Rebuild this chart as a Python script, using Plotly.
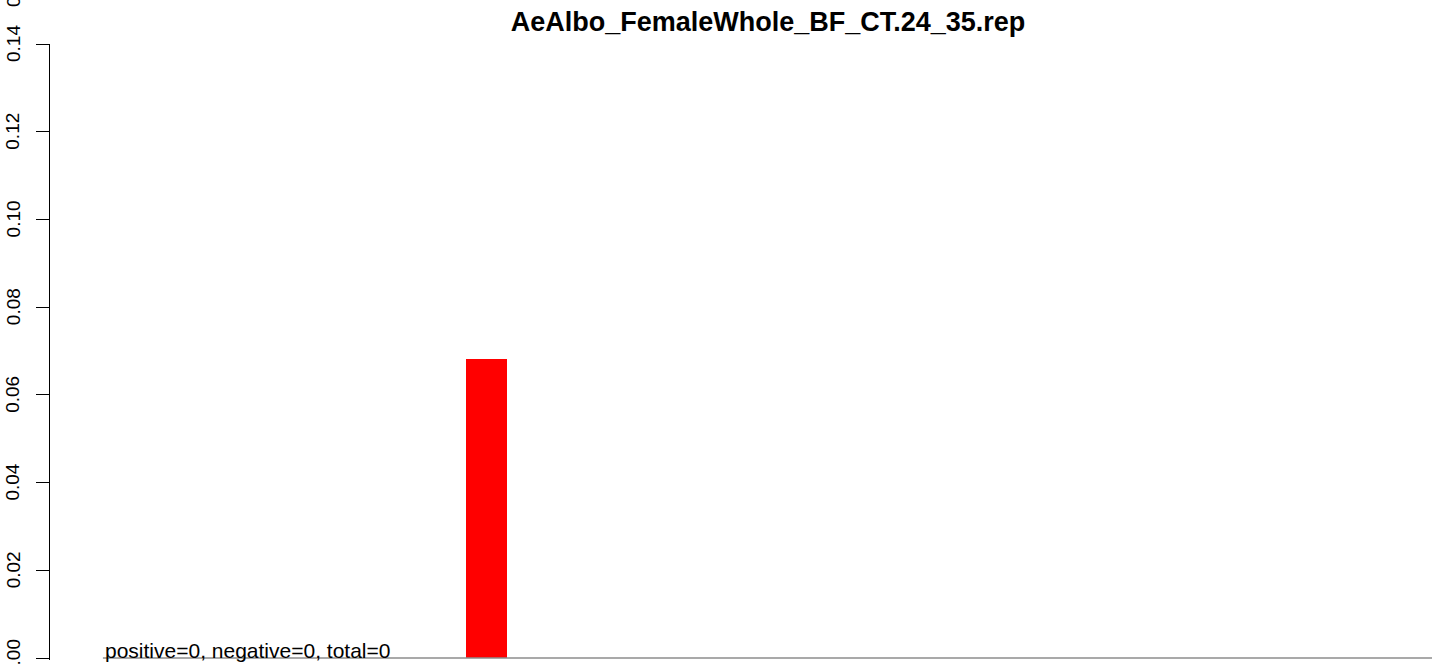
import plotly.graph_objects as go

# ---- data ----
title_text = "AeAlbo_FemaleWhole_BF_CT.24_35.rep"
bar_positions = [10.65]
bar_values = [0.0682]
y_tick_values = [0.00, 0.02, 0.04, 0.06, 0.08, 0.10, 0.12, 0.14]
y_tick_labels = ["0.00", "0.02", "0.04", "0.06", "0.08", "0.10", "0.12", "0.14"]
baseline_start = 1.29
baseline_end = 33.7
summary_text = "positive=0, negative=0, total=0"

FONT = "Liberation Sans, Arial, Helvetica, sans-serif"

fig = go.Figure()
fig.add_trace(go.Bar(
    x=bar_positions, y=bar_values, width=1.0,
    marker=dict(color="#ff0000", line=dict(width=0)),
    showlegend=False, hoverinfo="skip",
))

fig.add_shape(type="line", xref="x", yref="y",
              x0=baseline_start, x1=baseline_end, y0=0, y1=0,
              line=dict(color="#8c8c8c", width=1.5), layer="above")

fig.add_annotation(x=baseline_start, y=0, xref="x", yref="y",
                   text=summary_text, showarrow=False,
                   xanchor="left", yanchor="bottom", yshift=-6,
                   font=dict(family=FONT, size=21, color="black"))

# rotated y tick labels (R style, reading bottom to top)
for v, lab in zip(y_tick_values, y_tick_labels):
    fig.add_annotation(x=0, y=v, xref="paper", yref="y", text=lab,
                       showarrow=False, textangle=-90, xanchor="center",
                       yanchor="middle", xshift=-37,
                       font=dict(family=FONT, size=19, color="black"))

# partially visible rotated label at top-left corner
fig.add_annotation(x=0, y=1, xref="paper", yref="paper", text="0",
                   showarrow=False, textangle=-90, xanchor="center", yanchor="middle",
                   xshift=-37, yshift=42, font=dict(family=FONT, size=19, color="black"))

fig.update_layout(
    width=1439, height=664,
    margin=dict(l=50, r=7, t=44, b=4, autoexpand=False),
    paper_bgcolor="white", plot_bgcolor="white",
    title=dict(text="<b>" + title_text + "</b>", x=(768 - 50) / 1382, xref="paper",
               xanchor="center", y=1 - 22 / 664, yref="container", yanchor="middle",
               font=dict(family=FONT, size=27, color="black")),
    bargap=0,
)
fig.update_xaxes(range=[0, 33.7], visible=False, showgrid=False, zeroline=False,
                 automargin=False)
fig.update_yaxes(range=[-0.00045, 0.14], tickmode="array", tickvals=y_tick_values,
                 showticklabels=False, ticks="outside", ticklen=13,
                 tickwidth=1, tickcolor="black", showline=True, linecolor="black",
                 linewidth=1, showgrid=False, zeroline=False, automargin=False)

fig.write_html("out.html", config={"displayModeBar": False},
               post_script="document.body.style.margin='0';document.body.style.overflow='hidden';")
